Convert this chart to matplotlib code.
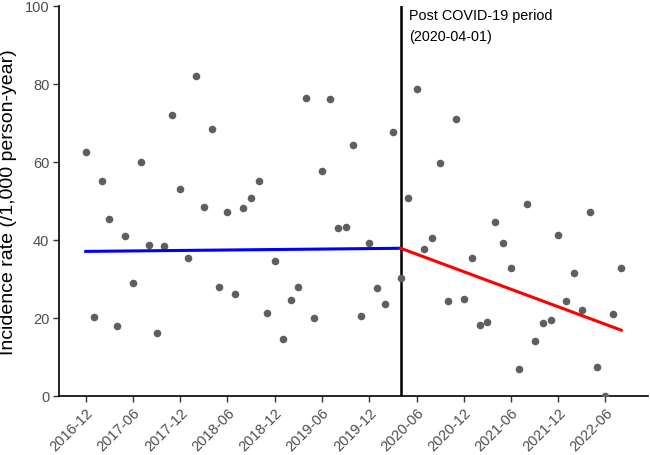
import matplotlib
matplotlib.use("Agg")
import matplotlib.pyplot as plt
import numpy as np
import pandas as pd

plt.rcParams['font.family'] = ['Liberation Sans', 'DejaVu Sans']

# Monthly incidence rates, 2016-12 .. 2022-08
start_month = "2016-12-01"
rates = [62.4, 20.1, 55.0, 45.3, 17.9, 41.0, 28.8, 59.8, 38.7, 16.0, 38.4, 72.0,
         52.9, 35.4, 82.1, 48.3, 68.5, 27.9, 47.0, 26.0, 48.2, 50.6, 55.0, 21.2,
         34.5, 14.5, 24.6, 28.0, 76.3, 19.9, 57.7, 76.1, 42.9, 43.3, 64.4, 20.5,
         39.1, 27.5, 23.6, 67.5, 30.3, 50.8, 78.6, 37.5, 40.4, 59.6, 24.2, 70.9,
         24.7, 35.2, 18.2, 18.9, 44.5, 39.2, 32.7, 6.9, 49.2, 14.1, 18.6, 19.5,
         41.3, 24.3, 31.4, 22.1, 47.0, 7.4, 0.0, 21.0, 32.7]
months = pd.date_range(start_month, periods=len(rates), freq="MS")

# Fitted segments (start / end values)
intervention = "2020-04-01"
pre_fit_dates = ["2016-12-01", "2020-04-01"]
pre_fit_vals = [37.0, 37.8]
post_fit_dates = ["2020-04-01", "2022-08-01"]
post_fit_vals = [37.8, 16.8]

tick_labels = ["2016-12", "2017-06", "2017-12", "2018-06", "2018-12", "2019-06",
               "2019-12", "2020-06", "2020-12", "2021-06", "2021-12", "2022-06"]
y_ticks = [0, 20, 40, 60, 80, 100]

fig = plt.figure(figsize=(6.5, 4.56), dpi=100)
ax = fig.add_axes([59/650, 1-396.7/456, (648-59)/650, 390/456])

ax.scatter(months, rates, s=30, color="#5f5f5f", zorder=3, linewidths=0)
ax.plot(pd.to_datetime(pre_fit_dates), pre_fit_vals, color="#0000ff", lw=2.2, zorder=4)
ax.plot(pd.to_datetime(post_fit_dates), post_fit_vals, color="#ff0000", lw=2.2, zorder=4)
ax.axvline(pd.Timestamp(intervention), color="black", lw=1.8, zorder=2)
ax.text(pd.Timestamp(intervention) + pd.Timedelta(days=33), 99.4,
        "Post COVID-19 period\n(2020-04-01)", fontsize=10.4, va="top", ha="left",
        color="black", linespacing=1.6)

span = months[-1] - months[0]
ax.set_xlim(months[0] - span * 0.05, months[-1] + span * 0.05)
ax.set_ylim(0, 100)

tick_dates = pd.to_datetime([t + "-01" for t in tick_labels])
ax.set_xticks(tick_dates)
ax.set_xticklabels(tick_labels, rotation=45, ha="right", rotation_mode="anchor",
                   fontsize=10.5, color="#4d4d4d")
ax.set_yticks(y_ticks)
ax.set_yticklabels([str(v) for v in y_ticks], fontsize=10.5, color="#4d4d4d")
ax.tick_params(axis="both", length=4, width=1, color="#333333")
ax.tick_params(axis="x", pad=3)
ax.tick_params(axis="y", pad=3)
ax.set_ylabel("Incidence rate (/1,000 person-year)", fontsize=14, color="black")
ax.yaxis.set_label_coords(-0.0705, 0.5)

for s in ["top", "right"]:
    ax.spines[s].set_visible(False)
for s in ["left", "bottom"]:
    ax.spines[s].set_linewidth(1.2)
    ax.spines[s].set_color("black")

fig.savefig("out.png", dpi=100)
